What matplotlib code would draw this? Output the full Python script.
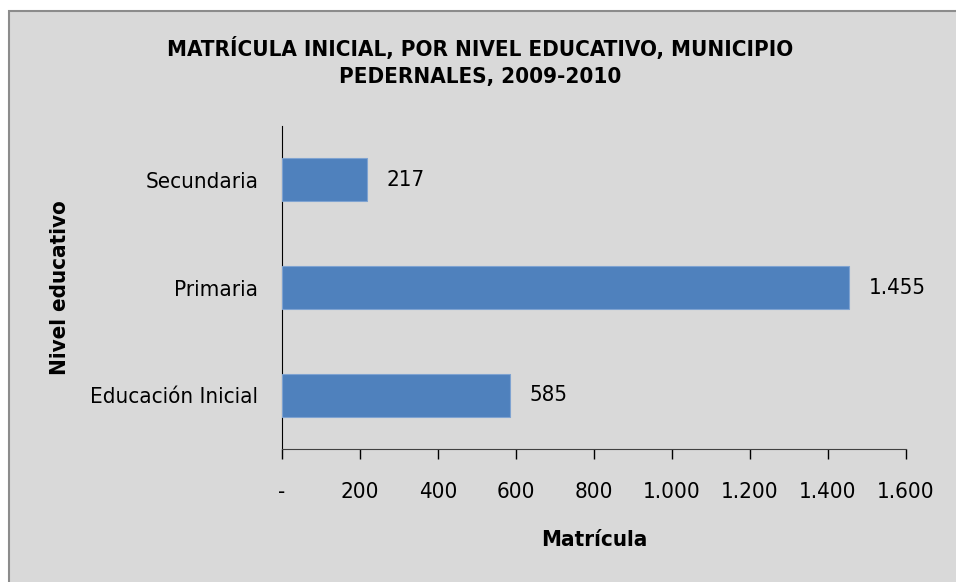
import matplotlib
matplotlib.use("Agg")
import matplotlib.pyplot as plt
from matplotlib import font_manager
from matplotlib.patches import Rectangle

categories = ["Educación Inicial", "Primaria", "Secundaria"]
values = [585, 1455, 217]
value_labels = ["585", "1.455", "217"]
xticks = [0, 200, 400, 600, 800, 1000, 1200, 1400, 1600]
xtick_labels = ["-", "200", "400", "600", "800", "1.000", "1.200", "1.400", "1.600"]
title = "MATRÍCULA INICIAL, POR NIVEL EDUCATIVO, MUNICIPIO\nPEDERNALES, 2009-2010"
xlabel = "Matrícula"
ylabel = "Nivel educativo"

names = {f.name for f in font_manager.fontManager.ttflist}
if "Liberation Sans Narrow" in names:
    fam = "Liberation Sans Narrow"
    stretch = "normal"
else:
    fam = "DejaVu Sans"
    stretch = "condensed"
plt.rcParams["font.family"] = [fam, "DejaVu Sans"]
plt.rcParams["font.stretch"] = stretch

BG = "#d9d9d9"
BAR = "#4f81bd"
FS = 16

fig = plt.figure(figsize=(9.56, 5.82), dpi=100, facecolor="white")
bgrect = Rectangle((9 / 956, -0.05), 1.2, 1 - 11 / 582 + 0.05,
                   transform=fig.transFigure, facecolor=BG,
                   edgecolor="#8c8c8c", linewidth=1.5, zorder=-10)
fig.patches.append(bgrect)

ax = fig.add_axes([282 / 956, 1 - 449 / 582, (906 - 282) / 956, (449 - 126) / 582])
ax.set_zorder(5)
ax.patch.set_alpha(0)

ypos = list(range(len(categories)))
ax.barh(ypos, values, height=0.4, color=BAR, edgecolor="#7fa3d1", linewidth=0.8, zorder=3)
for y, v, lab in zip(ypos, values, value_labels):
    ax.text(v + 50, y, lab, va="center", ha="left", fontsize=FS, color="black")

ax.set_xlim(0, 1600)
ax.set_ylim(-0.5, 2.5)
ax.set_xticks(xticks)
ax.set_xticklabels(xtick_labels)
ax.set_yticks(ypos)
ax.set_yticklabels(categories)
ax.tick_params(axis="x", direction="out", length=7, width=1, pad=17, labelsize=FS, color="black")
ax.tick_params(axis="y", length=0, pad=17, labelsize=FS)
for s in ["top", "right"]:
    ax.spines[s].set_visible(False)
ax.spines["left"].set_color("black")
ax.spines["bottom"].set_color("#404040")

ax.set_xlabel(xlabel, fontsize=FS, fontweight="bold", labelpad=20)
ax.set_ylabel(ylabel, fontsize=FS, fontweight="bold", labelpad=15)

fig.text(0.502, 1 - 62 / 582, title, ha="center", va="center", fontsize=FS,
         fontweight="bold", linespacing=1.45)

fig.savefig("out.png", dpi=100, facecolor="white")
